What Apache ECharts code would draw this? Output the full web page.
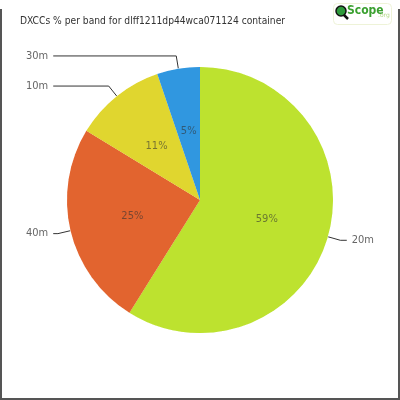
<!DOCTYPE html>
<html>
<head>
<meta charset="utf-8">
<script src="https://cdn.jsdelivr.net/npm/echarts@6/dist/echarts.min.js"></script>
<style>
  html, body { margin: 0; padding: 0; background: #fff; }
  #frame {
    position: absolute; left: 0; top: 9px; width: 400px; height: 391px;
    box-sizing: border-box;
    border-left: 2px solid #555; border-right: 2px solid #555; border-bottom: 2px solid #555;
  }
  #chart { position: absolute; left: 0; top: 0; width: 400px; height: 400px; }
</style>
</head>
<body>
<div id="frame"></div>
<div id="chart"></div>
<script>
// band data, clockwise from 12 o'clock
var bands = ['20m', '40m', '10m', '30m'];
var shares = [58.9, 24.8, 11.1, 5.2];
var bandColors = ['#bde22f', '#e2642f', '#e0d62f', '#3097e0'];

var titleText = 'DXCCs % per band for dlff1211dp44wca071124 container';
var fontName = '"DejaVu Sans Condensed", sans-serif';

function buildData() {
    var out = [];
    for (var i = 0; i < bands.length; i++) {
        out.push({ name: bands[i], value: shares[i], itemStyle: { color: bandColors[i] } });
    }
    return out;
}

var chart = echarts.init(document.getElementById('chart'), null, { renderer: 'canvas' });

var option = {
    animation: false,
    title: {
        text: titleText,
        left: 15,
        top: 11,
        textStyle: { fontFamily: fontName, fontSize: 10.2, fontWeight: 'normal', color: '#333' }
    },
    graphic: [
        {
            type: 'rect', left: 333, top: 3,
            shape: { width: 58, height: 21, r: 4 },
            style: { fill: '#fff', stroke: '#eef3d8', lineWidth: 1 }
        },
        {
            type: 'line',
            shape: { x1: 342, y1: 13, x2: 348, y2: 19 },
            style: { stroke: '#111', lineWidth: 2.5 }
        },
        {
            type: 'circle',
            shape: { cx: 341, cy: 11, r: 5 },
            style: { fill: '#2e9a3c', stroke: '#111', lineWidth: 1.5 }
        },
        {
            type: 'text', left: 347, top: 5,
            style: { text: 'Scope', fill: '#3aa02f', font: 'bold 12px "DejaVu Sans Condensed", sans-serif' }
        },
        {
            type: 'text', left: 378, top: 12,
            style: { text: '.org', fill: '#b5d98a', font: '6px "DejaVu Sans", sans-serif' }
        }
    ],
    series: [
        {
            // slices with inside percentages
            type: 'pie',
            center: [200, 200],
            radius: [0, 133],
            startAngle: 90,
            clockwise: true,
            data: buildData(),
            itemStyle: { borderColor: '#fff', borderWidth: 1 },
            label: {
                show: true,
                position: 'inner',
                formatter: function (p) { return Math.round(p.value) + '%'; },
                fontFamily: fontName,
                fontSize: 11,
                color: 'rgba(50,50,50,0.6)'
            },
            labelLine: { show: false },
            emphasis: { disabled: true }
        },
        {
            // transparent copy for outer band names
            type: 'pie',
            center: [200, 200],
            radius: [0, 133],
            startAngle: 90,
            clockwise: true,
            silent: true,
            data: buildData(),
            itemStyle: { color: 'rgba(0,0,0,0)' },
            label: {
                show: true,
                position: 'outside',
                alignTo: 'edge',
                edgeDistance: 26,
                overflow: 'none',
                width: 40,
                formatter: '{b}',
                fontFamily: fontName,
                fontSize: 11,
                color: '#666'
            },
            labelLine: {
                show: true,
                length: 13,
                length2: 10,
                lineStyle: { color: '#333', width: 1 }
            },
            emphasis: { disabled: true }
        }
    ]
};

chart.setOption(option);

window.addEventListener('resize', function () {
    if (chart) chart.resize();
});
</script>
</body>
</html>
